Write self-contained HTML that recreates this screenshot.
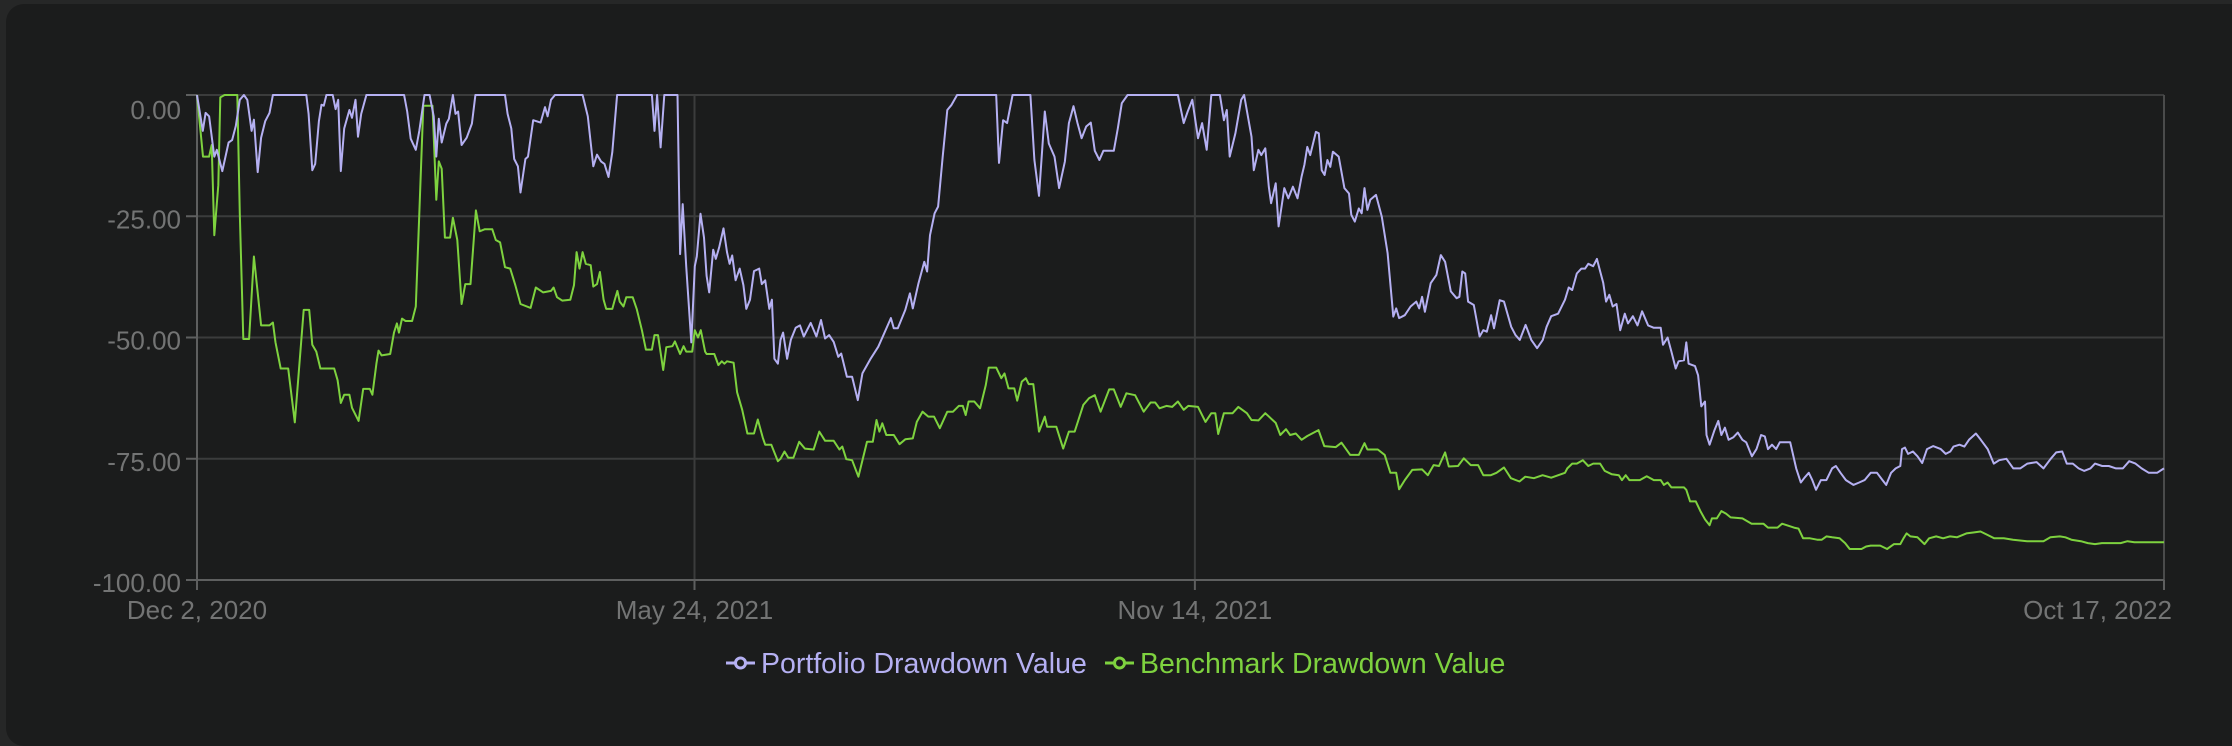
<!DOCTYPE html>
<html><head><meta charset="utf-8"><style>
html,body{margin:0;padding:0;background:#262727;width:2232px;height:746px;overflow:hidden;position:relative}
#card{position:absolute;left:6px;top:4px;width:2226px;height:742px;background:#1b1c1c;border-radius:18px 0 0 18px}
svg{position:absolute;left:0;top:0}
text{font-family:"Liberation Sans",sans-serif}
</style></head><body>
<div id="card"></div>
<svg id="chart" width="2232" height="746"></svg>
<script>
const yTicks=[0,-25,-50,-75,-100];
const xTickDays=[0,173,347,684];
const xTickLabels=["Dec 2, 2020","May 24, 2021","Nov 14, 2021","Oct 17, 2022"];
const seriesNames=["Portfolio Drawdown Value","Benchmark Drawdown Value"];
const portDays=[0,2,3,4.2,6,6.9,8.8,11,12.2,13.5,14.9,16.3,17.5,19,19.8,21.1,22.3,23.7,25.2,26.4,38,38.8,40.1,41.1,42.4,43.3,44.1,45,47.2,48.2,49.1,50,51.2,53,53.9,55.1,56,57.1,58.9,72,73.1,74.3,76.1,77.3,79.1,80.9,82.3,83.2,84.1,85.1,86.7,87.6,89,89.9,90.8,92,93.8,95.6,96.8,107.1,108,109.3,110.3,111.6,112.5,114.2,115.1,116.9,119.5,121,121.9,123.1,124.5,134.1,135.9,137.8,139.1,140.5,141.7,143.1,144.4,146.1,158.2,159.1,160,161.2,162.5,167.1,168,168.9,170.1,171.9,173.1,173.8,175.1,176.3,177.2,178.1,179.5,180.4,181.6,183.1,184.3,185.2,186.1,187.3,188.7,190,191,192.3,193.7,195.5,196.4,197.6,199,199.9,200.8,202,202.9,203.8,205.2,206.5,208.2,209.7,211,213.4,215.4,217,218.4,219.8,221.4,223,224,226,227.8,229.8,231.4,234.3,236.9,241.3,242.3,243.7,246.3,247.9,248.9,250.9,252.9,253.9,254.9,256.5,257.7,259.3,260.9,262.3,264.3,277.9,278.9,280.3,281.7,283.6,289.8,291.2,292.8,294.8,296.2,298.2,299.8,301.8,303.2,304.8,306.2,307.6,309.2,310.8,312.2,313.8,315.2,318.8,320.2,321.6,323.6,341.1,343.1,344.5,346.1,348.1,349.5,351.1,352.7,355.7,357.1,358.1,359.1,361.1,363.1,364.1,366.7,367.5,369.1,370.1,371.5,372.7,373.5,375.1,376.1,378.1,379.5,381.1,382.7,384.1,385.1,386.1,387.1,389.1,390.1,391.1,392.1,393.1,394.1,395,397,399,400.6,401.4,402.6,404,405,406,407,408,410,412,414,416,417,418,420,422,424,425,426,427,429,431,432.5,434,436,438,439,440,441,442,444,446,447.3,448.5,450,451,453,454.5,457,458.5,460,462,464,466,468,469.3,470.9,473.3,475.7,477,478.2,479.8,481.4,482.7,483.8,485.5,486.8,487.9,489,490,491.1,492.3,493.6,494.9,496.5,497.6,499.3,500.9,502.5,504.6,506.6,509,509.8,511.4,512.7,514.2,515.2,517.1,517.9,518.7,520.9,522,523.1,524.4,524.9,526,527.7,529,530.1,531.3,532.6,534.2,535.8,537.4,538.7,540.7,542.3,543.9,545.2,546.3,547.7,549.1,550.4,552.3,554,556.1,557.7,559,560.5,561.7,563,564.7,566.6,568.6,569.9,571.5,573.4,576,578,579.9,582,584.2,586.1,587.4,589.1,590.7,592.3,592.9,593.9,595,596.7,598.3,599.9,601.6,603.7,606.4,608.1,609.7,610.8,612.9,614.6,616.2,618.6,620.3,622.7,624.8,626.7,629.2,631.6,634,636.5,639.7,642.1,644.6,646.5,648.6,650.2,652.3,654.3,656.2,658.4,660,662.5,664.8,667.3,669.7,671.9,674.1,676.2,678.7,681.6,684];
const portVals=[0,-7.4,-3.7,-4.4,-12.7,-11.3,-15.7,-9.8,-9.3,-6.4,-1,0,-1,-7.4,-5.1,-15.9,-8.8,-5.4,-3.7,0,0,-3.9,-15.5,-14.2,-5.4,-2,-2.2,0,0,-2.9,-1,-15.7,-6.9,-3.1,-4.7,-1,-8.6,-3.9,0,0,-3.4,-9,-11.3,-7.4,0,0,-4.4,-12.7,-4.9,-9.8,-5.9,-4.9,0,-3.9,-3.4,-10.3,-8.8,-5.9,0,0,-3.9,-6.9,-13.2,-14.7,-20.1,-13.2,-12.7,-5.2,-5.7,-2.5,-4.4,-1,0,0,-4.4,-14.7,-12.3,-13.7,-14.2,-16.9,-11.8,0,0,-7.4,0,-10.8,0,0,-32.8,-22.5,-35.3,-51,-35.3,-33.3,-24.5,-29.4,-37.3,-40.7,-31.9,-33.8,-31.4,-27.5,-32.4,-34.8,-33.1,-38.2,-35.8,-39.2,-44.1,-42.2,-36.3,-35.8,-39,-38.2,-44.1,-42.2,-54.4,-55.4,-50.5,-49,-54.4,-50.5,-48,-47.5,-49.8,-47,-49.8,-46.4,-50.2,-49.5,-50.9,-54,-53.3,-58.1,-58.1,-62.9,-57.4,-54.3,-51.9,-46,-48.1,-48.1,-44.3,-40.9,-44,-38.8,-34.4,-36.4,-28.9,-24.4,-23,-12.7,-3.1,-2.1,0,0,-14,-5.2,-5.8,0,0,-13.4,-20.8,-3.4,-10,-12.7,-19.2,-13.7,-5.8,-2.3,-5.8,-8.9,-6.5,-5.7,-11.5,-13.4,-11.5,-11.5,-6.9,-1.7,0,0,-5.8,-3.4,-1,-8.9,-5.8,-11.3,0,0,-5.2,-3.1,-12.7,-7.9,-1,0,-8.6,-15.5,-11.3,-12.4,-11,-18.9,-22.3,-18.2,-27.1,-19.2,-21.3,-18.9,-21.3,-16.8,-14.4,-10.7,-12.4,-7.6,-7.9,-15.5,-16.5,-13.4,-14.8,-11.7,-12.7,-19.2,-20.3,-24.7,-26.1,-23.4,-24.4,-19.2,-23.7,-21.6,-20.6,-25.1,-32.6,-45.7,-44,-46,-45.4,-43.6,-42.6,-44,-41.6,-44.7,-38.8,-37.1,-33,-34.4,-40.5,-41.9,-41.6,-36.4,-36.8,-42.6,-43.3,-49.8,-48.5,-48.8,-45.4,-48.1,-42.3,-42.6,-47.8,-49.5,-50.5,-47.4,-50.5,-52.2,-50.5,-47.8,-45.6,-45.1,-42.2,-39.7,-40.2,-36.8,-35.8,-35.8,-34.8,-35.3,-33.8,-36.3,-38.7,-42.6,-41.2,-43.6,-43.1,-48.5,-45.1,-47.1,-45.6,-47.5,-44.6,-47.5,-48,-48,-51.5,-50,-52.9,-56.4,-54.9,-54.7,-51,-55.4,-55.9,-57.8,-64.2,-63.2,-70.1,-72.1,-69.1,-67.2,-70.1,-68.6,-71.1,-70.6,-69.6,-71.1,-71.6,-74.5,-73,-70.1,-70.4,-73,-72.1,-73,-71.6,-71.6,-71.6,-77,-79.9,-78.9,-77.9,-79.4,-81.4,-79.4,-79.4,-77,-76.5,-77.9,-79.4,-80.4,-79.9,-79.4,-77.9,-77.9,-79.4,-80.4,-77.9,-77,-76.5,-73,-72.7,-74,-73.5,-74.5,-75.9,-73,-72.4,-73,-74,-73.5,-72.5,-72.1,-72.5,-71.1,-69.8,-71.1,-73,-76,-75.3,-75,-77,-77,-76,-75.7,-77,-75,-73.7,-73.5,-76,-76,-77,-77.5,-77,-76,-76.5,-76.5,-77,-77,-75.5,-76,-77,-77.9,-77.9,-77];
const benchDays=[0,2.1,4.2,5.1,6,7.4,8.1,9.6,14,14.9,16.1,18.1,19.8,22.3,25.2,26.4,27.3,29.1,31.7,34,37.1,39,40.1,41.5,42.9,47.7,48.9,50,51.2,53,53.9,56.2,57.8,60.1,61,62.4,63.1,64.2,67.2,68.5,69.5,70.2,71.3,72.5,74.8,76.1,77.3,78.7,81.9,83.2,84.1,85.1,86.2,88,89,90.5,92,93.3,95.1,97,98.3,100,102.7,103.9,105.4,107.1,108.9,110.7,112.5,116,117.8,120.4,123.1,124,125.2,127,129.8,131.1,132,133,134.1,135.2,136.9,137.8,139.1,140.1,141.4,142.3,144.4,145.3,146.2,147,148.3,149.3,151.5,152.9,154.7,156.1,158.2,159.1,160.3,162.1,163.2,165.3,166.2,168,169.2,170.1,172.2,173.1,174.2,175.2,176.7,177.2,179.9,181.3,182.5,183.4,184.3,186.6,187.8,189.6,191.4,193.7,195,196.7,197.6,199.7,202,202.9,204.3,205.6,207.4,209.4,211.4,214.4,216.4,218.4,221.4,223.4,224.4,225.8,227.8,230,233,235,236.3,237.3,238.3,239.7,242.3,244.3,246.3,248.9,250.3,252.3,254.3,256.3,258.3,260.9,262.9,264.9,266.3,267.3,268.3,270.3,272.3,274.3,275.3,277.9,279.7,280.8,282.2,284.2,285.2,286.8,288.2,289.2,290.8,292.8,294.8,295.6,298.8,301.2,303.2,305.2,308.2,310.2,312.2,314.2,317.2,318.8,321.2,323.2,326.2,329.2,331.6,333.2,334.7,337.1,339.1,341.1,343.1,344.7,348.1,350.7,352.7,354.1,355.1,357.1,360.1,362.1,365.1,366.7,369.1,371.5,375.1,376.7,378.7,380.1,382.1,384.1,386.1,390,392,396,398,401,404,406,407,410.6,413,415,417,418,420,422.6,426,428,430,431.9,434,435.3,438.5,440.5,442.9,445.5,447.3,449.9,451.9,454.5,456.9,459.9,461.9,464.9,467.9,470.9,475.7,476.5,478.2,479.8,481.9,483.8,485.5,487.9,489.5,492,494.4,495.5,496.8,498.1,501.7,504.1,506.6,509,510.1,511.4,512.7,514.7,517.1,517.9,519.2,521.2,522.8,524.4,526,526.8,528.5,530.1,531.7,533.3,537.4,540.6,544.7,546.3,549.6,551.2,555.3,556.9,558.5,560.9,563.4,565,566.6,568.6,571.2,573.1,574.7,578.8,580.4,582,585.3,587.7,590.1,592.3,593.4,594.5,595.8,598.3,600.7,602.3,604.8,607.2,609.6,612,615.3,617.7,620.2,622.6,625,628.3,631.5,636.4,642.1,644.5,647.8,649.7,651.8,655.1,657.5,660,662.4,665.6,668.9,671.3,673.7,678.6,684];
const benchVals=[0,-12.7,-12.7,-10.3,-28.9,-18.6,-0.5,0,0,-24.5,-50.3,-50.3,-33.3,-47.5,-47.5,-46.9,-51,-56.4,-56.4,-67.5,-44.3,-44.3,-51.5,-52.9,-56.4,-56.4,-58.8,-63.5,-61.8,-61.8,-64.5,-67.2,-60.6,-60.6,-61.8,-55.4,-52.7,-53.7,-53.4,-49,-47.1,-49,-46.1,-46.6,-46.6,-43.6,-24.5,-2.2,-2.2,-21.6,-13.7,-15.2,-29.4,-29.4,-25.3,-29.9,-43.1,-39,-39,-23.8,-28.1,-27.7,-27.7,-29.9,-30.4,-35.5,-35.8,-39.2,-43.1,-43.9,-39.7,-40.7,-40.4,-39.7,-41.7,-42.4,-42.2,-39.2,-32.4,-35.8,-32.4,-34.8,-35.1,-39.5,-39,-36.5,-42.2,-44.1,-44.1,-42.2,-40.4,-42.6,-43.6,-41.7,-41.7,-44.1,-48.5,-52.5,-52.5,-49.5,-49.5,-56.7,-52,-51.8,-50.8,-53.4,-51.8,-52.9,-52.9,-48.5,-50,-48.5,-52.9,-53.4,-53.4,-55.7,-54.9,-55.4,-54.9,-55.2,-61.3,-64.9,-69.8,-69.8,-66.9,-70.6,-72.1,-72.1,-75.5,-75,-73.5,-74.8,-74.8,-71.5,-72.9,-73.1,-69.4,-71.3,-71.3,-73.1,-72.5,-75.1,-75.3,-78.7,-71.5,-71.5,-67,-69.4,-67.7,-70.1,-70.1,-72,-71,-70.8,-67.4,-65.3,-66.3,-66.3,-68.7,-65.3,-65.3,-64.1,-64.1,-66,-63.2,-63.2,-64.6,-59.8,-56.2,-56.2,-58.4,-57.4,-60.5,-60.5,-63,-59.1,-58.4,-59.6,-59.6,-69.4,-66.3,-68.4,-68.4,-72.9,-69.4,-69.4,-63.9,-62.5,-61.9,-65.3,-60.7,-60.7,-64.3,-61.5,-61.9,-65.3,-63.4,-63.4,-64.6,-64.1,-64.3,-63.2,-64.9,-64.1,-64.3,-67.4,-65.6,-65.6,-69.9,-65.6,-65.6,-64.3,-65.6,-67,-67.1,-65.6,-67.6,-70.1,-68.9,-70.1,-69.8,-71.1,-70.3,-69.1,-72.4,-72.6,-71.7,-74.2,-74.2,-71.8,-73.1,-73.1,-74.2,-77.9,-77.9,-81.3,-79.4,-77.3,-77.2,-78.4,-76.3,-76.5,-73.7,-76.6,-76.5,-74.9,-76.3,-76.3,-78.4,-78.4,-77.9,-76.8,-79,-79.7,-78.7,-79,-78.4,-78.9,-77.9,-77,-76,-76,-75.3,-76.5,-76,-76,-77.5,-78.2,-78.4,-79.4,-78.4,-79.4,-79.4,-78.6,-79.4,-79.4,-80.4,-79.9,-80.9,-80.9,-80.9,-81.4,-83.8,-83.8,-85.8,-87.5,-88.7,-87.3,-87.3,-85.8,-86.3,-87.1,-87.3,-88.4,-88.4,-89.2,-89.2,-88.4,-89.2,-89.4,-91.4,-91.4,-91.7,-91.7,-91,-91.2,-91.4,-92.4,-93.6,-93.6,-93.1,-92.9,-92.9,-93.6,-92.6,-92.6,-91.4,-90.4,-91,-91.2,-92.6,-91.4,-91,-91.4,-91,-91.2,-90.4,-90.2,-90,-90.7,-91.4,-91.4,-91.7,-92,-92,-91.2,-91,-91.2,-91.7,-92,-92.4,-92.6,-92.4,-92.4,-92.4,-92,-92.2,-92.2,-92.2];

const NS="http://www.w3.org/2000/svg";
const svg=document.getElementById('chart');
const L=197,R=2164,T=95,B=580,DMAX=684;
function xS(d){return L+(d/DMAX)*(R-L);}
function yS(v){return T+(-v/100)*(B-T);}
function mk(tag,attrs){const e=document.createElementNS(NS,tag);for(const k in attrs)e.setAttribute(k,attrs[k]);svg.appendChild(e);return e;}

yTicks.forEach((t,i)=>{
  if(t!==-100){
    const g=mk('line',{x1:L,x2:R,y1:yS(t),y2:yS(t),stroke:'#3b3c3c','stroke-width':2});
    
    
  }
  const tk=mk('line',{x1:L-11,x2:L,y1:yS(t),y2:yS(t),stroke:'#5e5f5f','stroke-width':2});
  
  
  const lb=mk('text',{x:181,y:yS(t)+(i===0?24:12),'text-anchor':'end','font-size':26,fill:'#737474'});
  lb.textContent=t.toFixed(2);
  
  
});
xTickDays.forEach((d,i)=>{
  if(i>0){
    const g=mk('line',{x1:xS(d),x2:xS(d),y1:T,y2:B,stroke:i===3?'#4a4b4b':'#3b3c3c','stroke-width':2});
    
    
  }
  const tk=mk('line',{x1:xS(d),x2:xS(d),y1:B,y2:B+10,stroke:'#5e5f5f','stroke-width':2});
  
  
  const lb=mk('text',{x:i===3?xS(d)+8:xS(d),y:619,'text-anchor':i===3?'end':'middle','font-size':26,fill:'#737474'});
  lb.textContent=xTickLabels[i];
  
  
});
const ya=mk('line',{x1:L,x2:L,y1:T,y2:B,stroke:'#5e5f5f','stroke-width':2});


const xa=mk('line',{x1:L,x2:R,y1:B,y2:B,stroke:'#5e5f5f','stroke-width':2});



function line(days,vals,color,name){
  const p=mk('path',{d:days.map((d,i)=>(i?'L':'M')+xS(d).toFixed(1)+','+yS(vals[i]).toFixed(1)).join(''),fill:'none',stroke:color,'stroke-width':2,'stroke-linejoin':'round'});
  
  
}
line(benchDays,benchVals,'#7ed23f','benchmark-line');
line(portDays,portVals,'#b5b0f2','portfolio-line');

const leg=[[726,'#b5b0f2',seriesNames[0],'legend-portfolio'],[1105,'#7ed23f',seriesNames[1],'legend-benchmark']];
leg.forEach(([x,c,t,n])=>{
  const l=mk('line',{x1:x,x2:x+29,y1:663,y2:663,stroke:c,'stroke-width':3});
  
  
  const ci=mk('circle',{cx:x+14.5,cy:663,r:5,fill:'#1b1c1c',stroke:c,'stroke-width':3});
  
  
  const tx=mk('text',{x:x+35,y:673,'font-size':28.5,fill:c});
  tx.textContent=t;
  
  
});
</script>
</body></html>
